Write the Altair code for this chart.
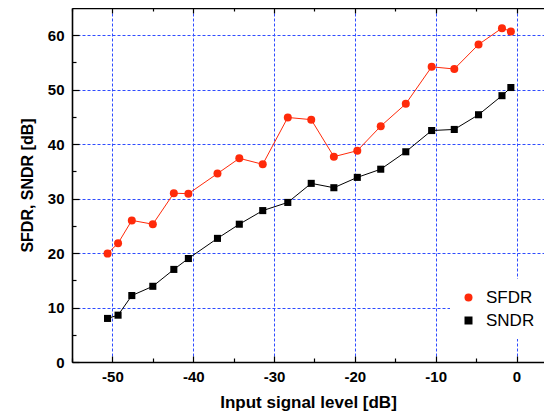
import altair as alt
import pandas as pd

# Data
x_level = [-50.6, -49.3, -47.6, -45.0, -42.4, -40.6, -37.0, -34.3, -31.4, -28.3,
           -25.4, -22.6, -19.7, -16.8, -13.7, -10.5, -7.7, -4.7, -1.8, -0.7]
sfdr = [19.9, 21.8, 26.0, 25.3, 31.0, 30.9, 34.6, 37.4, 36.3, 44.9,
        44.5, 37.7, 38.8, 43.3, 47.4, 54.2, 53.8, 58.3, 61.3, 60.7]
sndr = [8.0, 8.6, 12.2, 13.9, 17.0, 19.0, 22.7, 25.3, 27.8, 29.3,
        32.8, 32.0, 33.9, 35.4, 38.6, 42.5, 42.7, 45.4, 48.9, 50.4]
series = ["SFDR", "SNDR"]
colors = ["#ff2a0a", "#000000"]

x_major = [-50, -40, -30, -20, -10, 0]
x_minor = [-55, -45, -35, -25, -15, -5]
y_major = [0, 10, 20, 30, 40, 50, 60]
y_minor = [5, 15, 25, 35, 45, 55]

rows = []
for xv, a, b in zip(x_level, sfdr, sndr):
    rows.append({"x": xv, "y": a, "series": "SFDR"})
    rows.append({"x": xv, "y": b, "series": "SNDR"})
df = pd.DataFrame(rows)

FONT = "Liberation Sans"
GRID = "#2f4cff"
xscale = alt.Scale(domain=[-55, 3.4], nice=False, zero=False)
yscale = alt.Scale(domain=[0, 65], nice=False, zero=False)


def tick_axis(orient, values, size):
    return alt.Axis(orient=orient, values=values, offset=-size, tickSize=size,
                    ticks=True, tickColor="black", tickWidth=1.2, labels=False,
                    domain=False, grid=False, title=None)


def bare_x(axis):
    return alt.X("x:Q", scale=xscale, axis=axis)


def bare_y(axis):
    return alt.Y("y:Q", scale=yscale, axis=axis)


main_x = alt.Axis(orient="bottom", values=x_major, grid=True, gridColor=GRID,
                  gridDash=[3, 2], gridWidth=1, ticks=False, tickSize=0,
                  domain=True, domainColor="black", domainWidth=1.6,
                  labelExpr="'' + datum.value", labelFont=FONT, labelFontSize=15,
                  labelFontWeight="bold", labelColor="black", labelPadding=7,
                  title="Input signal level [dB]", titleFont=FONT, titleFontSize=17,
                  titleFontWeight="bold", titleColor="black", titlePadding=10)
main_y = alt.Axis(orient="left", values=y_major, grid=True, gridColor=GRID,
                  gridDash=[3, 2], gridWidth=1, ticks=False, tickSize=0,
                  domain=True, domainColor="black", domainWidth=1.6,
                  labelExpr="'' + datum.value", labelFont=FONT, labelFontSize=15,
                  labelFontWeight="bold", labelColor="black", labelPadding=8,
                  title="SFDR, SNDR [dB]", titleFont=FONT, titleFontSize=16,
                  titleFontWeight="bold", titleColor="black", titlePadding=12)

leg = alt.Legend(orient="none", legendX=378, legendY=271, title=None,
                 symbolSize=64, labelFont=FONT, labelFontSize=17,
                 labelColor="black", labelOffset=9, padding=10,
                 fillColor="white", rowPadding=5)

base = alt.Chart(df)
sf = base.transform_filter("datum.series == 'SFDR'")
sn = base.transform_filter("datum.series == 'SNDR'")

line_sfdr = sf.mark_line(strokeWidth=1, color=colors[0]).encode(
    x=bare_x(main_x), y=bare_y(main_y))
line_sndr = sn.mark_line(strokeWidth=1, color=colors[1]).encode(
    x=bare_x(None), y=bare_y(None))

circles = sf.mark_circle(size=64, color=colors[0], opacity=1).encode(
    x=bare_x(tick_axis("bottom", x_major, 6)),
    y=bare_y(tick_axis("left", y_major, 7)),
)
squares = sn.mark_square(size=50, color=colors[1], opacity=1).encode(
    x=bare_x(tick_axis("bottom", x_minor, 4)),
    y=bare_y(tick_axis("left", y_minor, 4)),
)

empty = base.transform_filter("false")
top_domain = empty.mark_point().encode(
    x=bare_x(alt.Axis(orient="top", domain=True, domainColor="black", domainWidth=1.6,
                      ticks=False, labels=False, grid=False, title=None)),
    y=bare_y(None),
)
top_major = empty.mark_point().encode(
    x=bare_x(tick_axis("top", x_major, 5)), y=bare_y(None))
top_minor = empty.mark_point().encode(
    x=bare_x(tick_axis("top", x_minor, 3)), y=bare_y(None))

legend_color = base.mark_point(filled=True, size=64, opacity=0).encode(
    x=bare_x(None), y=bare_y(None),
    color=alt.Color("series:N", scale=alt.Scale(domain=series, range=colors), legend=leg),
)
legend_shape = base.mark_point(filled=True, size=64, opacity=0).encode(
    x=bare_x(None), y=bare_y(None),
    shape=alt.Shape("series:N", scale=alt.Scale(domain=series, range=["circle", "square"]),
                    legend=leg),
)

chart = alt.layer(
    line_sfdr, line_sndr, circles, squares, top_domain, top_major, top_minor,
    legend_color, legend_shape
).resolve_axis(x="independent", y="independent").properties(
    width=472, height=354,
    background="white",
    autosize=alt.AutoSizeParams(type="none"),
    padding={"left": 64, "top": 0, "right": 0, "bottom": 50},
).configure_view(stroke=None)

chart.save("out.html", embed_options={"renderer": "svg", "actions": False})
